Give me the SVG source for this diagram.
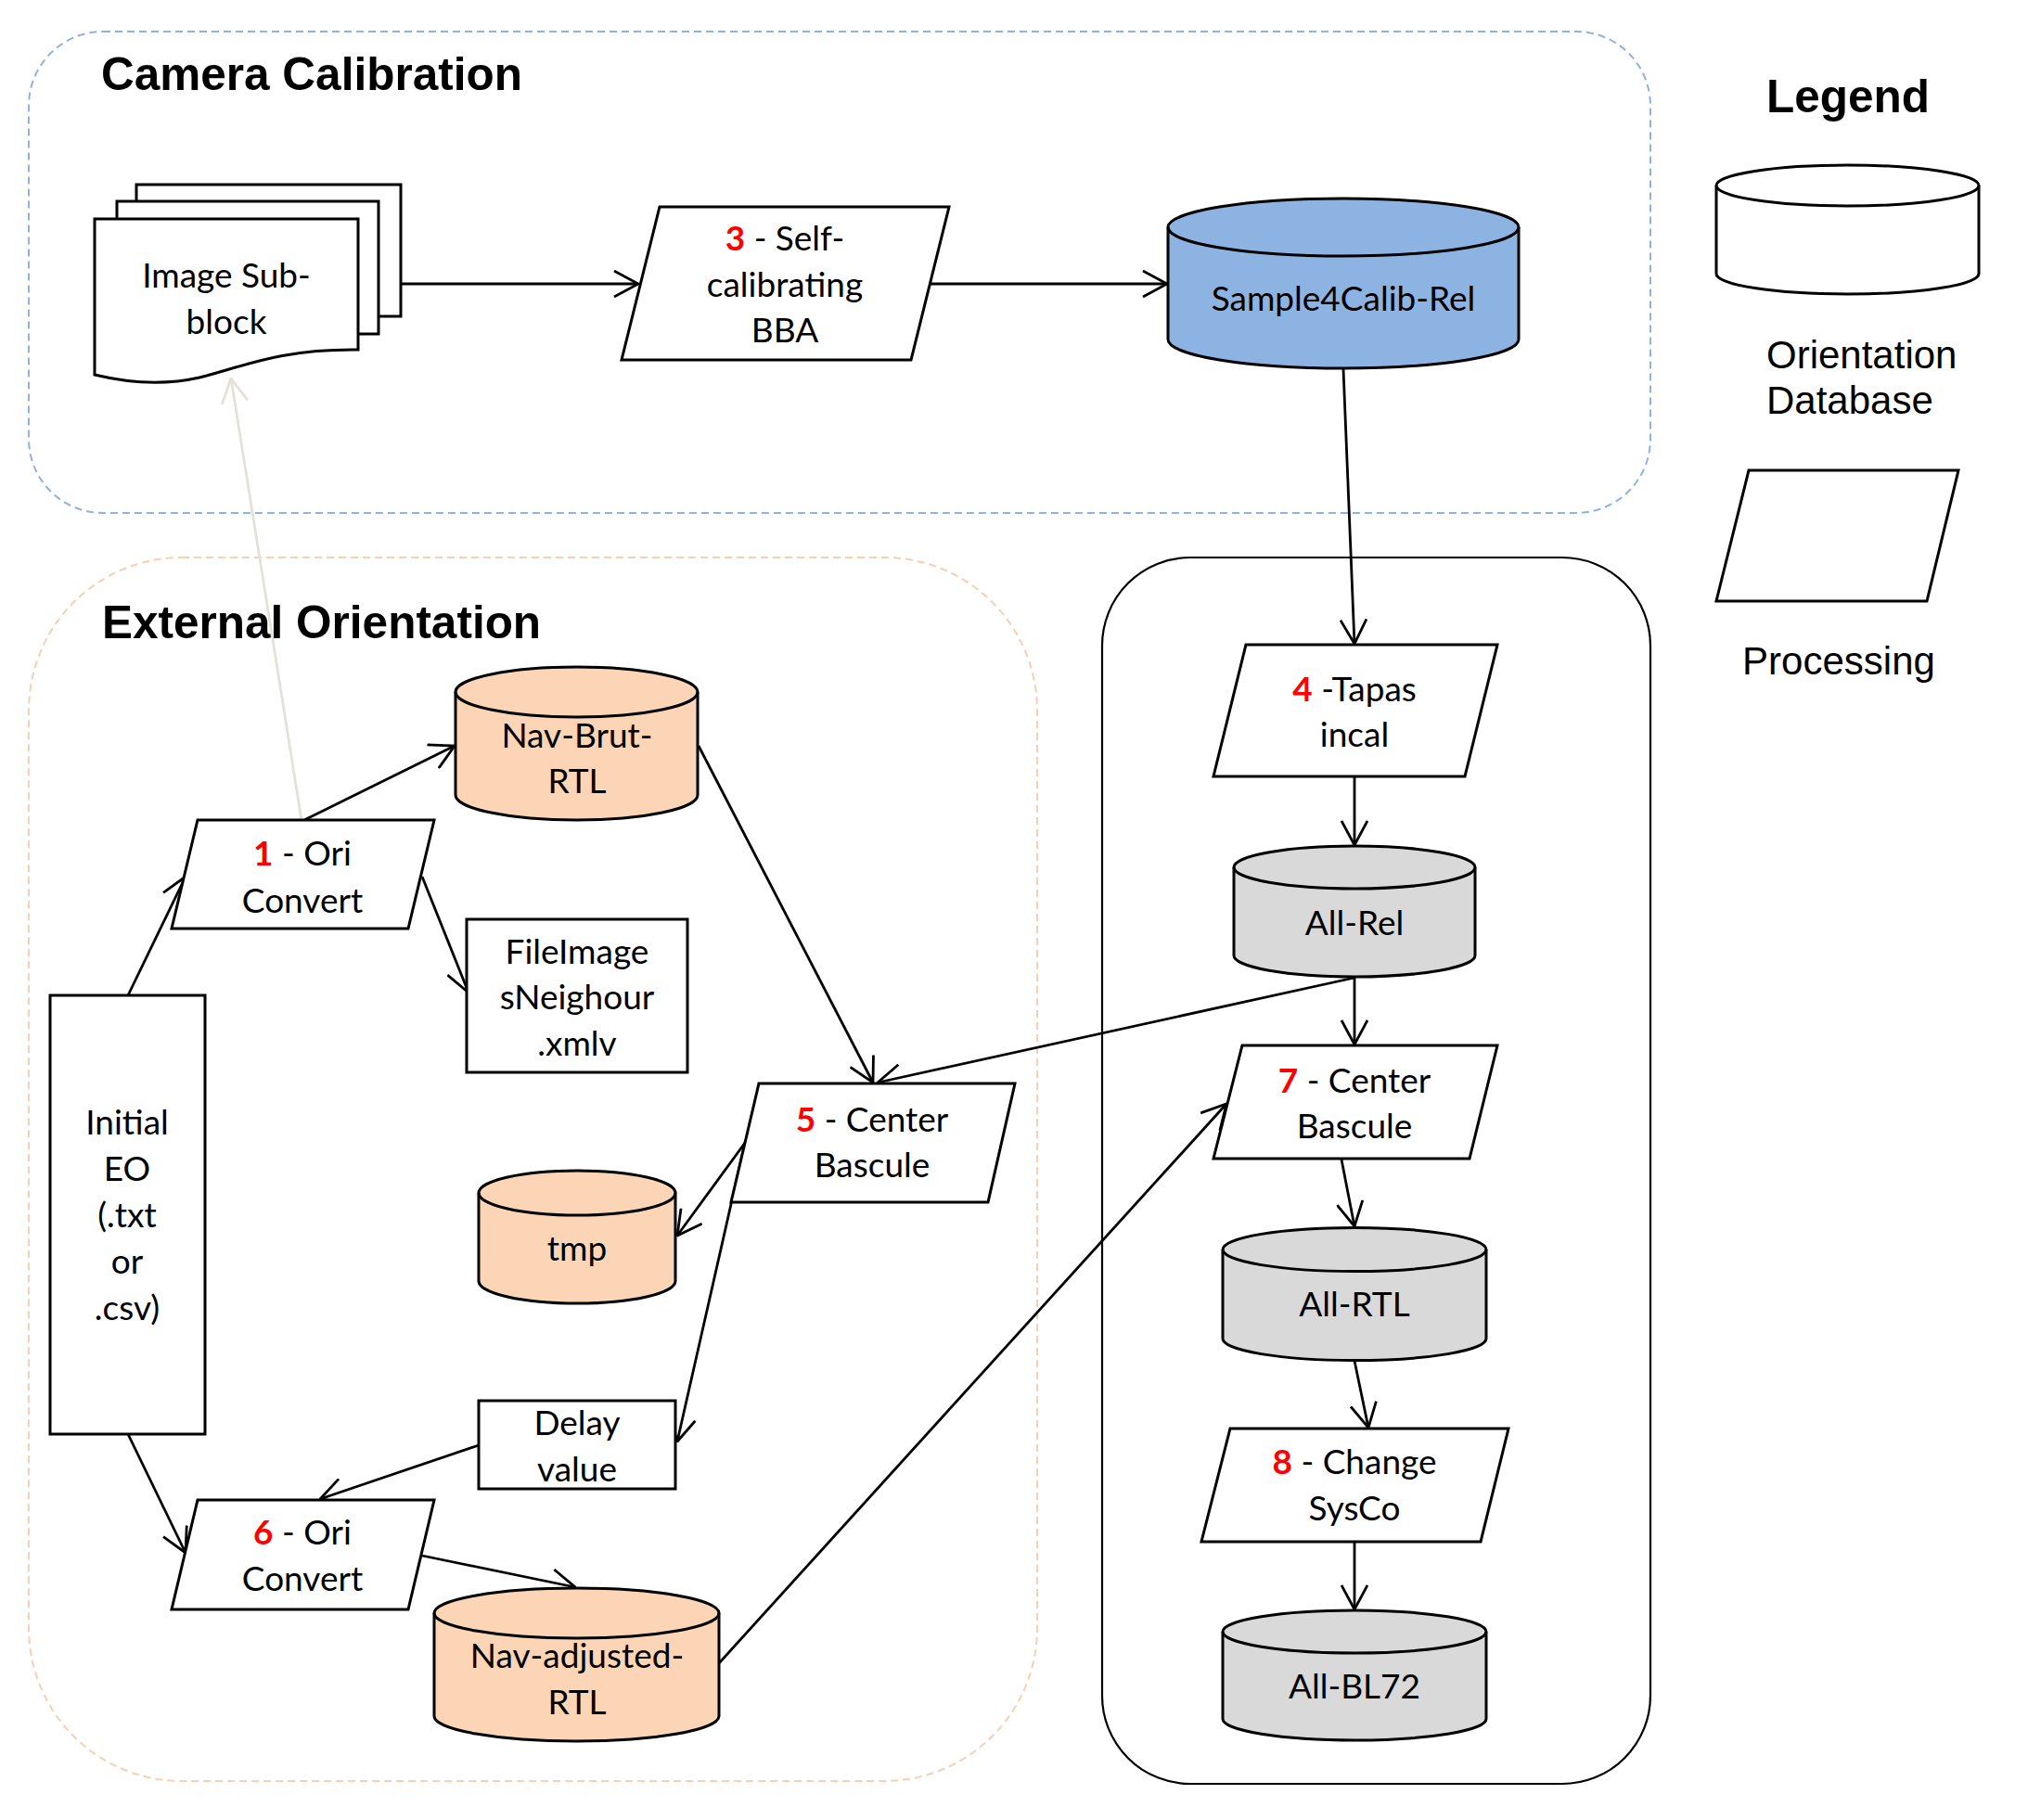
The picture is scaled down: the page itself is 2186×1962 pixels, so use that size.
<svg xmlns="http://www.w3.org/2000/svg" width="2186" height="1962" viewBox="0 0 2186 1962">
<style>
.shape{stroke:#000;stroke-width:3;fill:#fff}
.blue{fill:#8DB3E2}
.peach{fill:#FBD5B5}
.grey{fill:#D9D9D9}
.lbl{font-family:Lato,"Open Sans",sans-serif;font-size:37px;fill:#000;text-anchor:middle}
.num{fill:#FF0000;font-weight:bold}
.title{font-family:"Liberation Sans",Arial,sans-serif;font-size:49.5px;font-weight:bold;fill:#000}
.leg{font-family:"Liberation Sans",Arial,sans-serif;font-size:42px;fill:#000}
.conn{stroke:#000;stroke-width:2.8;fill:none;marker-end:url(#arr)}
.connl{stroke:#E4E2D6;stroke-width:2.8;fill:none;marker-end:url(#arrl)}
</style>
<defs>
<marker id="arr" viewBox="0 0 28 30" markerWidth="28" markerHeight="30" refX="27" refY="15" orient="auto" markerUnits="userSpaceOnUse">
<path d="M1,1 L27,15 L1,29" fill="none" stroke="#000" stroke-width="2.8"/>
</marker>
<marker id="arrl" viewBox="0 0 28 30" markerWidth="28" markerHeight="30" refX="27" refY="15" orient="auto" markerUnits="userSpaceOnUse">
<path d="M1,1 L27,15 L1,29" fill="none" stroke="#E4E2D6" stroke-width="2.8"/>
</marker>
</defs>
<rect width="2186" height="1962" fill="#fff"/>

<g id="containers">
<rect id="camera-calibration" x="31" y="34" width="1748" height="519" rx="80" ry="80" fill="none" stroke="#8DB3E2" stroke-width="2" stroke-dasharray="8 5"/>
<rect id="external-orientation" x="31" y="601" width="1087" height="1319" rx="165" ry="165" fill="none" stroke="#F9CFAE" stroke-width="2" stroke-dasharray="8 5"/>
<rect id="right-panel" x="1188" y="601" width="591" height="1322" rx="95" ry="95" fill="none" stroke="#000" stroke-width="2.2"/>
<text class="title" x="109" y="97">Camera Calibration</text>
<text class="title" x="110" y="688">External Orientation</text>
</g>

<g id="legend">
<text class="title" x="1992" y="121" text-anchor="middle">Legend</text>
<path class="shape" d="M1850,200 A141.5,22 0 0 1 2133,200 V295 A141.5,22 0 0 1 1850,295 Z"/>
<path d="M1850,200 A141.5,22 0 0 0 2133,200" fill="none" stroke="#000" stroke-width="3"/>
<text class="leg" x="1904" y="397">Orientation</text>
<text class="leg" x="1904" y="446">Database</text>
<polygon class="shape" points="1885,507 2111,507 2077,648 1850,648"/>
<text class="leg" x="1982" y="727" text-anchor="middle">Processing</text>
</g>

<g id="connectors">
<line class="conn" x1="433" y1="306" x2="688" y2="306"/>
<line class="conn" x1="1003" y1="306" x2="1258" y2="306"/>
<line class="conn" x1="1448" y1="398" x2="1460" y2="694"/>
<line class="conn" x1="1460" y1="837" x2="1460" y2="911"/>
<line class="conn" x1="1460" y1="1054" x2="1460" y2="1126"/>
<line class="conn" x1="1446" y1="1250" x2="1460" y2="1322"/>
<line class="conn" x1="1460" y1="1467" x2="1475" y2="1539"/>
<line class="conn" x1="1460" y1="1662" x2="1460" y2="1735"/>
<line class="conn" x1="138" y1="1073" x2="200" y2="945"/>
<line class="conn" x1="328" y1="884" x2="490" y2="804"/>
<line class="conn" x1="455" y1="945" x2="505" y2="1070"/>
<line class="connl" x1="325" y1="884" x2="249" y2="408"/>
<line class="conn" x1="753" y1="804" x2="941" y2="1167"/>
<line class="conn" x1="1460" y1="1054" x2="946" y2="1167"/>
<line class="conn" x1="803" y1="1232" x2="730" y2="1332"/>
<line class="conn" x1="803" y1="1232" x2="730" y2="1554"/>
<line class="conn" x1="516" y1="1558" x2="345" y2="1616"/>
<line class="conn" x1="138" y1="1546" x2="200" y2="1674"/>
<line class="conn" x1="455" y1="1677" x2="620" y2="1711"/>
<line class="conn" x1="775" y1="1793" x2="1322" y2="1190"/>
</g>

<g id="image-subblock">
<rect class="shape" x="147" y="199" width="285" height="142"/>
<rect class="shape" x="126" y="217" width="282" height="143"/>
<path class="shape" d="M102,236 H386 V377 C300,376 260,396 215,407 C175,416 135,412 102,404 Z"/>
<text class="lbl" x="244" y="310">Image Sub-</text>
<text class="lbl" x="244" y="360">block</text>
</g>

<g id="p3">
<polygon class="shape" points="711,223 1023,223 982,388 670,388"/>
<text class="lbl" x="846" y="270"><tspan class="num">3</tspan> - Self-</text>
<text class="lbl" x="846" y="320">calibrating</text>
<text class="lbl" x="846" y="369">BBA</text>
</g>

<g id="sample4calib">
<path class="shape blue" d="M1259,245 A189,31 0 0 1 1637,245 V366 A189,31 0 0 1 1259,366 Z"/>
<path d="M1259,245 A189,31 0 0 0 1637,245" fill="none" stroke="#000" stroke-width="3"/>
<text class="lbl" x="1448" y="335">Sample4Calib-Rel</text>
</g>

<g id="p4">
<polygon class="shape" points="1343,695 1614,695 1579,837 1308,837"/>
<text class="lbl" x="1460" y="756"><tspan class="num">4</tspan> -Tapas</text>
<text class="lbl" x="1460" y="805">incal</text>
</g>

<g id="all-rel">
<path class="shape grey" d="M1330,935 A130,23 0 0 1 1590,935 V1030 A130,23 0 0 1 1330,1030 Z"/>
<path d="M1330,935 A130,23 0 0 0 1590,935" fill="none" stroke="#000" stroke-width="3"/>
<text class="lbl" x="1460" y="1008">All-Rel</text>
</g>

<g id="p7">
<polygon class="shape" points="1339,1127 1614,1127 1584,1249 1308,1249"/>
<text class="lbl" x="1460" y="1178"><tspan class="num">7</tspan> - Center</text>
<text class="lbl" x="1460" y="1227">Bascule</text>
</g>

<g id="all-rtl">
<path class="shape grey" d="M1318,1347 A142,23.5 0 0 1 1602,1347 V1443 A142,23.5 0 0 1 1318,1443 Z"/>
<path d="M1318,1347 A142,23.5 0 0 0 1602,1347" fill="none" stroke="#000" stroke-width="3"/>
<text class="lbl" x="1460" y="1419">All-RTL</text>
</g>

<g id="p8">
<polygon class="shape" points="1326,1540 1626,1540 1596,1662 1295,1662"/>
<text class="lbl" x="1460" y="1589"><tspan class="num">8</tspan> - Change</text>
<text class="lbl" x="1460" y="1639">SysCo</text>
</g>

<g id="all-bl72">
<path class="shape grey" d="M1318,1759 A142,23 0 0 1 1602,1759 V1853 A142,23 0 0 1 1318,1853 Z"/>
<path d="M1318,1759 A142,23 0 0 0 1602,1759" fill="none" stroke="#000" stroke-width="3"/>
<text class="lbl" x="1460" y="1831">All-BL72</text>
</g>

<g id="nav-brut-rtl">
<path class="shape peach" d="M491,746 A130.5,27 0 0 1 752,746 V857 A130.5,27 0 0 1 491,857 Z"/>
<path d="M491,746 A130.5,27 0 0 0 752,746" fill="none" stroke="#000" stroke-width="3"/>
<text class="lbl" x="622" y="806">Nav-Brut-</text>
<text class="lbl" x="622" y="855">RTL</text>
</g>

<g id="p1">
<polygon class="shape" points="213,884 468,884 440,1001 185,1001"/>
<text class="lbl" x="326" y="933"><tspan class="num">1</tspan> - Ori</text>
<text class="lbl" x="326" y="984">Convert</text>
</g>

<g id="fileimages">
<rect class="shape" x="503" y="991" width="238" height="165"/>
<text class="lbl" x="622" y="1039">FileImage</text>
<text class="lbl" x="622" y="1088">sNeighour</text>
<text class="lbl" x="622" y="1138">.xmlv</text>
</g>

<g id="initial-eo">
<rect class="shape" x="54" y="1073" width="167" height="473"/>
<text class="lbl" x="137" y="1223">Initial</text>
<text class="lbl" x="137" y="1273">EO</text>
<text class="lbl" x="137" y="1323">(.txt</text>
<text class="lbl" x="137" y="1373">or</text>
<text class="lbl" x="137" y="1423">.csv)</text>
</g>

<g id="p5">
<polygon class="shape" points="818,1168 1094,1168 1065,1296 788,1296"/>
<text class="lbl" x="940" y="1220"><tspan class="num">5</tspan> - Center</text>
<text class="lbl" x="940" y="1269">Bascule</text>
</g>

<g id="tmp">
<path class="shape peach" d="M516,1286 A106,24 0 0 1 728,1286 V1381 A106,24 0 0 1 516,1381 Z"/>
<path d="M516,1286 A106,24 0 0 0 728,1286" fill="none" stroke="#000" stroke-width="3"/>
<text class="lbl" x="622" y="1359">tmp</text>
</g>

<g id="delay-value">
<rect class="shape" x="516" y="1510" width="212" height="95"/>
<text class="lbl" x="622" y="1547">Delay</text>
<text class="lbl" x="622" y="1597">value</text>
</g>

<g id="p6">
<polygon class="shape" points="213,1617 468,1617 440,1735 185,1735"/>
<text class="lbl" x="326" y="1665"><tspan class="num">6</tspan> - Ori</text>
<text class="lbl" x="326" y="1715">Convert</text>
</g>

<g id="nav-adjusted-rtl">
<path class="shape peach" d="M468,1739 A153.5,27 0 0 1 775,1739 V1850 A153.5,27 0 0 1 468,1850 Z"/>
<path d="M468,1739 A153.5,27 0 0 0 775,1739" fill="none" stroke="#000" stroke-width="3"/>
<text class="lbl" x="622" y="1798">Nav-adjusted-</text>
<text class="lbl" x="622" y="1848">RTL</text>
</g>
</svg>
